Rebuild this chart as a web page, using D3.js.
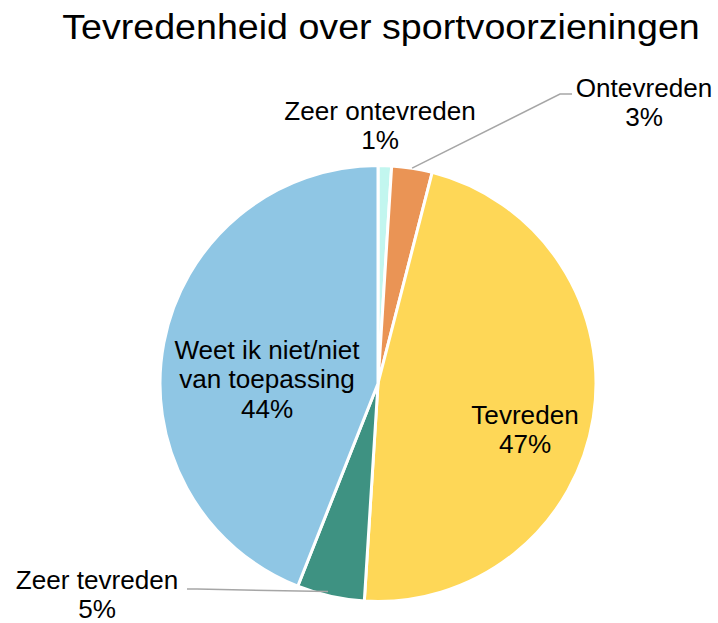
<!DOCTYPE html>
<html><head><meta charset="utf-8">
<script src="https://cdn.jsdelivr.net/npm/d3@7"></script>
<style>body{margin:0;background:#fff}svg{display:block}text{font-family:"Liberation Sans",Arial,sans-serif;fill:#000}</style>
</head><body>
<svg id="c" width="718" height="623"></svg>
<script>
const categories = ["Zeer ontevreden","Ontevreden","Tevreden","Zeer tevreden","Weet ik niet/niet van toepassing"];
const values = [1, 3, 47, 5, 44];
const colors = ["#c2f6ef","#ea9455","#fed757","#3e9282","#8fc6e4"];
const labelLines = [["Zeer ontevreden","1%"],["Ontevreden","3%"],["Tevreden","47%"],["Zeer tevreden","5%"],["Weet ik niet/niet","van toepassing","44%"]];
const title = "Tevredenheid over sportvoorzieningen";

const svg = d3.select("#c");
const cx = 378, cy = 383.5, r = 218;
const sx = 1.045;
svg.append("text").attr("transform",`translate(381,39) scale(${sx},1)`).attr("text-anchor","middle")
  .style("font-size","36px").text(title);

const pie = d3.pie().sort(null).value(d=>d)(values);
const arc = d3.arc().innerRadius(0).outerRadius(r);
const g = svg.append("g").attr("transform",`translate(${cx},${cy})`);
g.selectAll("path").data(pie).join("path")
  .attr("d", arc).attr("fill",(d,i)=>colors[i])
  .attr("stroke","#fff").attr("stroke-width",3).attr("stroke-linejoin","round");

const labelPos = [
  {x:380, y:120},
  {x:644, y:97},
  {x:525, y:424},
  {x:97, y:589},
  {x:267, y:359}
];
const lh = 29.5;
labelPos.forEach((p,i)=>{
  const t = svg.append("text").attr("text-anchor","middle").style("font-size","25px")
    .attr("transform",`translate(${p.x},${p.y}) scale(${sx},1)`);
  labelLines[i].forEach((s,k)=>t.append("tspan").attr("x",0).attr("y",k*lh).text(s));
});
const line = d3.line();
function edgePoint(i, frac, rr){
  const a = pie[i].startAngle + (pie[i].endAngle-pie[i].startAngle)*frac;
  return [cx + rr*Math.sin(a), cy - rr*Math.cos(a)];
}
const p1 = edgePoint(1, 0.5, r);
svg.append("path").attr("d", line([p1,[560,94],[572,94]]))
  .attr("fill","none").attr("stroke","#a6a6a6").attr("stroke-width",1.5);
const p3 = edgePoint(3, 0.55, r-4);
svg.append("path").attr("d", line([[187,589],[197,589],p3]))
  .attr("fill","none").attr("stroke","#a6a6a6").attr("stroke-width",1.5);
</script>
</body></html>
